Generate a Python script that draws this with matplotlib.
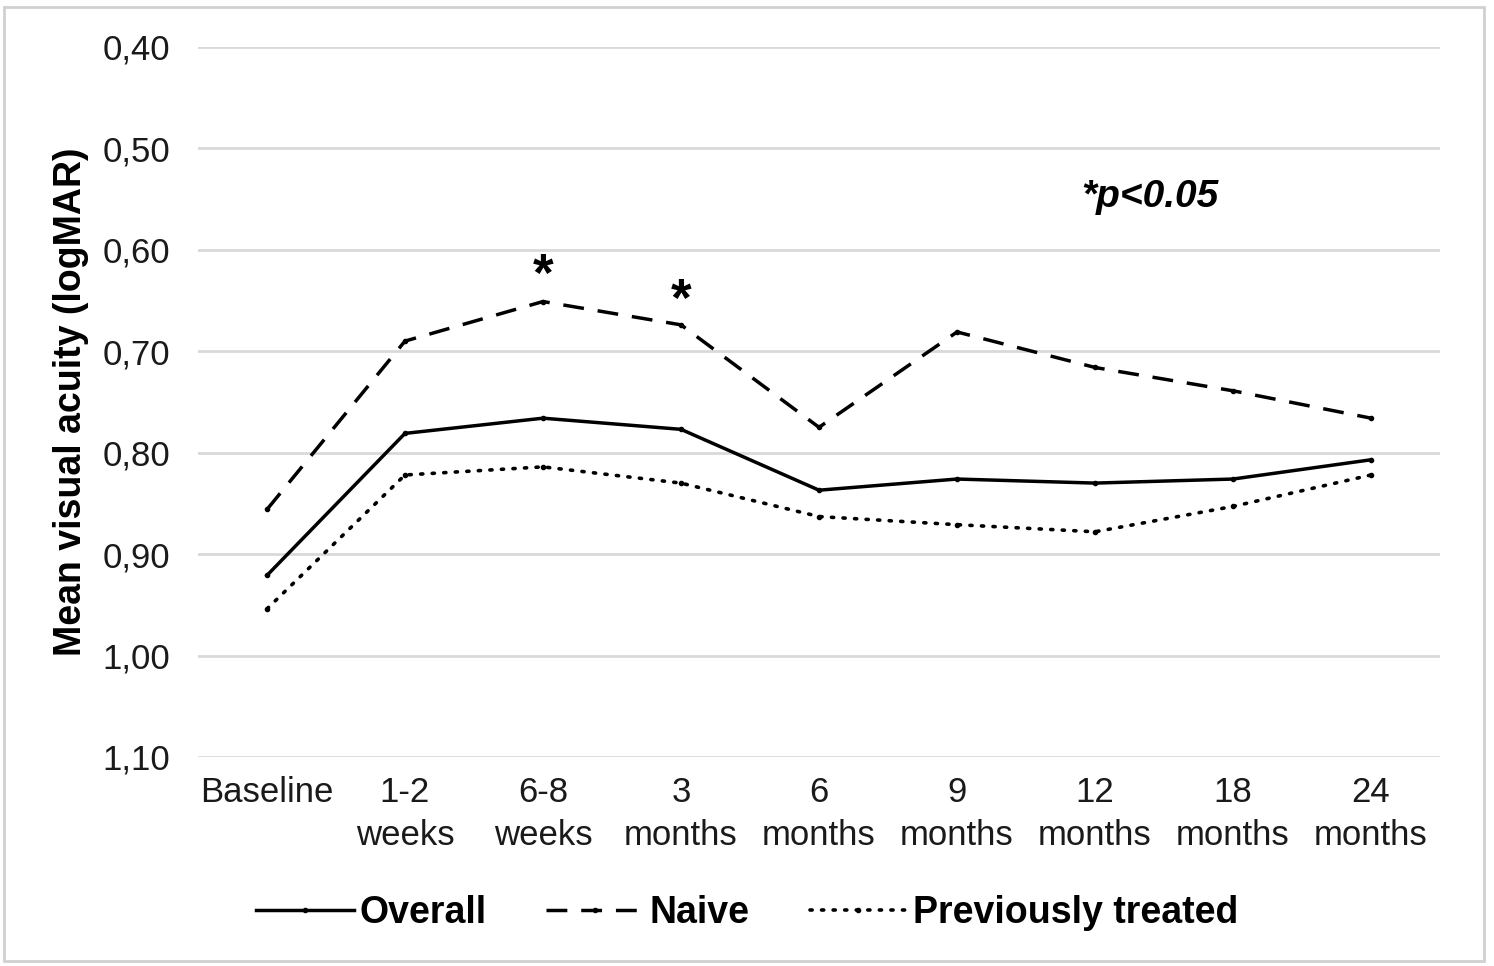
import matplotlib
matplotlib.use("Agg")
import matplotlib.pyplot as plt
from matplotlib.patches import Rectangle

# données (logMAR)
timepoints = ["Baseline", "1-2\nweeks", "6-8\nweeks", "3\nmonths", "6\nmonths",
              "9\nmonths", "12\nmonths", "18\nmonths", "24\nmonths"]
overall = [0.921, 0.781, 0.766, 0.777, 0.837, 0.826, 0.830, 0.826, 0.807]
naive = [0.856, 0.690, 0.651, 0.674, 0.775, 0.681, 0.716, 0.739, 0.766]
prev_treated = [0.954, 0.822, 0.814, 0.830, 0.863, 0.871, 0.878, 0.853, 0.822]
yticks = [0.40, 0.50, 0.60, 0.70, 0.80, 0.90, 1.00, 1.10]
signif_idx = [2, 3]
signif_y = [0.627, 0.651]

plt.rcParams['font.family'] = ['Liberation Sans', 'DejaVu Sans']

fig = plt.figure(figsize=(14.94, 9.66), dpi=100)
ax = fig.add_axes([0.1325, 0.2164, 0.8314, 0.7350])

x = list(range(len(timepoints)))
ax.plot(x, overall, color='black', lw=2.5, ls='-', marker='o', ms=3, label='Overall')
ax.plot(x, naive, color='black', lw=2.5, ls=(0, (6, 4)), marker='o', ms=3, label='Naive')
ax.plot(x, prev_treated, color='black', lw=2.6, ls=(0, (0.6, 2.6)), dash_capstyle='round',
        marker='o', ms=3, label='Previously treated')

for i, yv in zip(signif_idx, signif_y):
    ax.text(i, yv, '*', ha='center', va='center', fontsize=38, fontweight='bold')
ax.text(6.4, 0.548, '*p<0.05', ha='center', va='center', fontsize=28,
        fontweight='bold', style='italic')

ax.set_xlim(-0.5, len(timepoints) - 0.5)
ax.set_ylim(1.10, 0.40)
ax.set_yticks(yticks)
ax.set_yticklabels([f"{v:.2f}".replace('.', ',') for v in yticks])
ax.set_xticks(x)
ax.set_xticklabels(timepoints, linespacing=1.35)
ax.tick_params(axis='both', length=0, labelsize=25, colors='#1a1a1a')
ax.tick_params(axis='y', pad=20)
ax.tick_params(axis='x', pad=14)
ax.grid(axis='y', color='#d9d9d9', lw=2)
ax.set_axisbelow(True)
for s in ax.spines.values():
    s.set_visible(False)

ax.set_ylabel('Mean visual acuity (logMAR)', fontsize=27, fontweight='bold')
ax.yaxis.set_label_coords(-0.088, 0.5)

fig.legend(loc='center', bbox_to_anchor=(0.5, 0.055), ncol=3, frameon=False,
           handlelength=2.6, columnspacing=1.6, handletextpad=0.15,
           prop={'size': 27, 'weight': 'bold'})

fig.patches.append(Rectangle((0.003, 0.005), 0.990, 0.988, transform=fig.transFigure,
                             fill=False, edgecolor='#d0d0d0', lw=2))

fig.savefig('out.png', dpi=100)
